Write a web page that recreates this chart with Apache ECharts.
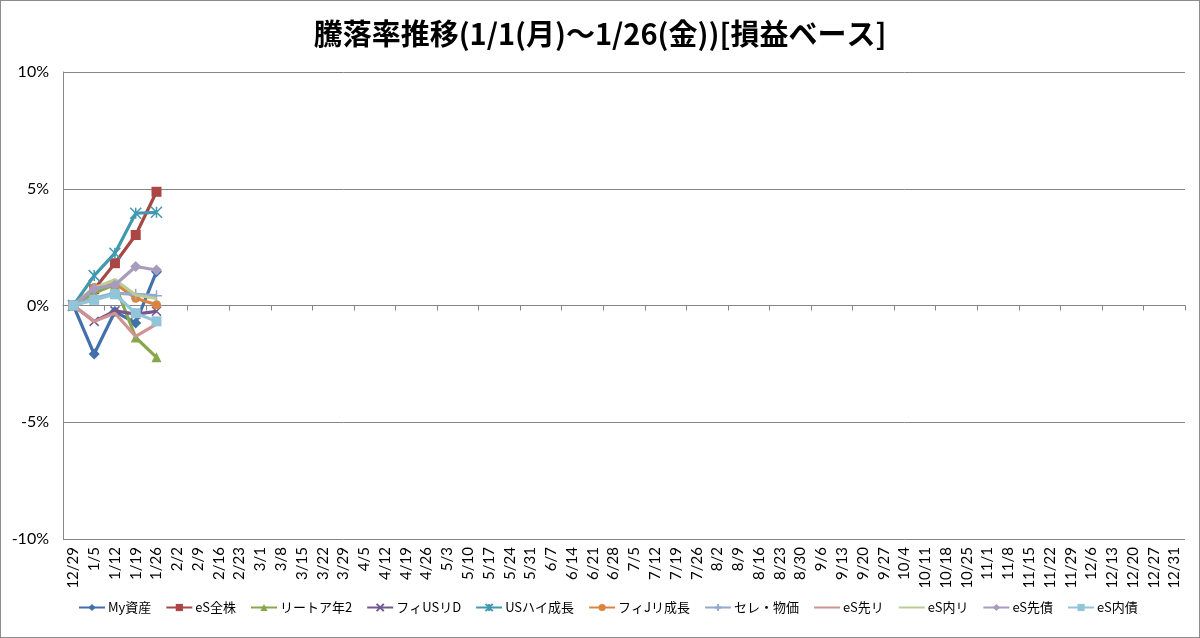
<!DOCTYPE html>
<html><head><meta charset="utf-8">
<script src="https://cdn.jsdelivr.net/npm/echarts@6/dist/echarts.min.js"></script>
<style>html,body{margin:0;padding:0;background:#fff}#c{width:1198px;height:636px;border:1px solid #8c8c8c}</style>
</head><body><div id="c"></div>
<script>
const categories = ["12/29","1/5","1/12","1/19","1/26","2/2","2/9","2/16","2/23","3/1","3/8","3/15","3/22","3/29","4/5","4/12","4/19","4/26","5/3","5/10","5/17","5/24","5/31","6/7","6/14","6/21","6/28","7/5","7/12","7/19","7/26","8/2","8/9","8/16","8/23","8/30","9/6","9/13","9/20","9/27","10/4","10/11","10/18","10/25","11/1","11/8","11/15","11/22","11/29","12/6","12/13","12/20","12/27","12/31"];
const seriesNames = ["My資産","eS全株","リートア年2","フィUSリD","USハイ成長","フィJリ成長","セレ・物価","eS先リ","eS内リ","eS先債","eS内債"];
const myShisan   = [0, -2.08, -0.26, -0.75, 1.45];
const esZenkabu  = [0, 0.70, 1.81, 3.02, 4.87];
const reitoA2    = [0, 0.53, 0.90, -1.37, -2.22];
const fiUSRD     = [0, -0.68, -0.23, -0.37, -0.25];
const usHigh     = [0, 1.28, 2.24, 3.95, 3.99];
const fiJRGrowth = [0, 0.77, 0.95, 0.31, 0.03];
const sereBukka  = [0, 0.31, 0.53, 0.48, 0.42];
const esSakiRi   = [0, -0.68, -0.33, -1.32, -0.80];
const esUchiRi   = [0, 0.75, 1.10, 0.45, 0.30];
const esSakiSai  = [0, 0.72, 0.88, 1.67, 1.52];
const esUchiSai  = [0, 0.24, 0.48, -0.33, -0.68];
const yTicks = [-10, -5, 0, 5, 10];

const values = [myShisan, esZenkabu, reitoA2, fiUSRD, usHigh, fiJRGrowth, sereBukka, esSakiRi, esUchiRi, esSakiSai, esUchiSai];
const colors = ["#4170AA","#AA4643","#89A54E","#71588F","#4198AF","#DB843D","#93A9CF","#D19392","#B9CD96","#A99BBD","#92C5D8"];
const X = 'path://M0,0L10,10M10,0L0,10';
const PLUS = 'path://M5,0L5,10M0,5L10,5';
const AST = 'path://M0,0L10,10M10,0L0,10M5,0L5,10';
const symbols = ['diamond','rect','triangle',X,AST,'circle',PLUS,'none','none','diamond','rect'];
const sizes = [11,10,10,9,11,9,11,0,0,11,10];
const strokeSym = [false,false,false,true,true,false,true,false,false,false,false];

const series = seriesNames.map((n,i)=>({
  name:n, type:'line', data:values[i], xAxisIndex:0,
  symbol:symbols[i], symbolSize:sizes[i], showSymbol:symbols[i]!=='none',
  lineStyle:{width:3.2,color:colors[i]},
  itemStyle: strokeSym[i] ? {color:colors[i], borderColor:colors[i], borderWidth:1.5} : {color:colors[i], borderWidth:0},
  emphasis:{disabled:true}, animation:false, z: 2+i
}));

const legendData = seriesNames.map((n,i)=> symbols[i]==='none'
  ? {name:n, itemStyle:{color:'rgba(0,0,0,0)', borderColor:'rgba(0,0,0,0)', borderWidth:0}}
  : {name:n});

const chart = echarts.init(document.getElementById('c'));
chart.setOption({
  animation:false,
  title:{text:'騰落率推移(1/1(月)～1/26(金))[損益ベース]', left:'center', top:13,
    textStyle:{fontFamily:'Noto Sans CJK JP', fontSize:29, fontWeight:'bold', color:'#000'}},
  grid:{left:62, right:14, top:71, bottom:98},
  legend:{bottom:18, left:72, itemWidth:26, itemHeight:9, itemGap:14,
    textStyle:{fontFamily:'Noto Sans CJK JP', fontSize:13, color:'#000', padding:[0,0,0,-2]}, data:legendData},
  xAxis:[
    {type:'category', data:categories, boundaryGap:true, position:'bottom',
     axisLine:{show:false, onZero:false}, axisTick:{show:false},
     axisLabel:{rotate:90, interval:0, fontFamily:'Lato', fontSize:15, color:'#000', margin:8}},
    {type:'category', data:categories, boundaryGap:true, position:'bottom',
     axisLine:{show:true, onZero:true, lineStyle:{color:'#868686', width:1}},
     axisTick:{show:true, length:5, inside:false, lineStyle:{color:'#868686'}},
     axisLabel:{show:false}}
  ],
  yAxis:{type:'value', min:yTicks[0], max:yTicks[yTicks.length-1], interval:5,
    axisLine:{show:true, lineStyle:{color:'#868686'}}, axisTick:{show:false},
    axisLabel:{formatter:v=>v+'%', fontFamily:'Lato', fontSize:16, color:'#000', margin:14},
    splitLine:{lineStyle:{color:'#868686', width:1}}},
  series:series
});
</script></body></html>
